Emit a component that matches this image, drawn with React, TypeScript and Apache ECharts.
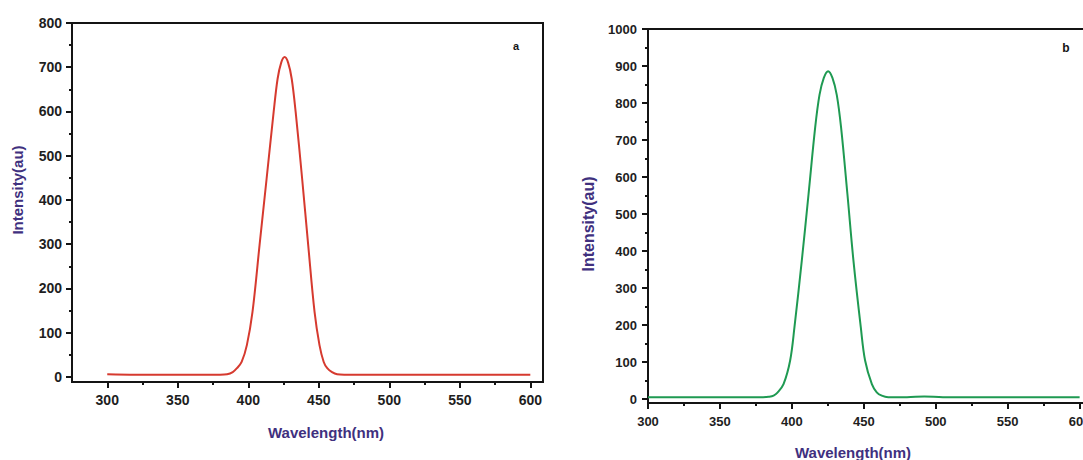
import React, { useEffect, useRef } from "react";
import * as echarts from "echarts";

// Panel a (red)
const wavelengthA = [300, 320, 350, 380, 385, 389, 392, 395.3, 399, 403, 408, 413, 418, 420.8, 423.3, 425.8, 428.3, 430.8, 433.6, 438.2, 442.5, 447, 450.5, 453.5, 456, 459.4, 463, 468, 480, 525, 550, 600];
const intensityA = [6, 5, 5, 5, 6, 11, 20, 34, 72, 147, 298, 448, 599, 674, 710, 723, 710, 674, 599, 448, 298, 147, 72, 34, 20, 11, 6, 5, 5, 5, 5, 5];

// Panel b (green)
const wavelengthB = [300, 340, 380, 384, 387.3, 390, 394.2, 398.8, 401.8, 406.9, 411.6, 416.2, 419.2, 422.2, 425.2, 428.2, 431.2, 434.2, 438.6, 442.8, 447.9, 450.9, 455.6, 459, 462.5, 467, 480, 492, 505, 530, 560, 600];
const intensityB = [5, 5, 5, 6, 9, 17, 40, 104, 194, 374, 554, 734, 822, 868, 886, 868, 822, 734, 554, 374, 194, 104, 40, 18, 9, 5, 5, 7, 5, 5, 5, 5];

// Tick labels
const xTickLabels = [300, 350, 400, 450, 500, 550, 600];
const xMinorTicks = [325, 375, 425, 475, 525, 575];
const yTickLabelsA = [0, 100, 200, 300, 400, 500, 600, 700, 800];
const yMinorTicksA = [50, 150, 250, 350, 450, 550, 650, 750];
const yTickLabelsB = [0, 100, 200, 300, 400, 500, 600, 700, 800, 900, 1000];
const yMinorTicksB = [50, 150, 250, 350, 450, 550, 650, 750, 850, 950];

const FONT = '"Liberation Sans", Arial, sans-serif';
const INK = "#141414";
const TITLE = "#40307e";

function majorAxis(
  gridIndex: number,
  min: number,
  max: number,
  position: string,
  labels: number[],
  margin: number,
  fontSize: number
) {
  return {
    type: "value",
    gridIndex,
    min,
    max,
    position,
    axisLine: { show: true, onZero: false, lineStyle: { color: INK, width: 2 } },
    axisTick: { show: true, customValues: labels, length: 6, lineStyle: { color: INK, width: 2 } },
    axisLabel: {
      show: true,
      customValues: labels,
      margin,
      fontSize,
      fontWeight: "bold",
      fontFamily: FONT,
      color: "#1e1e1e",
      formatter: (v: number) => String(Math.round(v)),
    },
    splitLine: { show: false },
  };
}

function minorAxis(gridIndex: number, min: number, max: number, position: string, ticks: number[]) {
  return {
    type: "value",
    gridIndex,
    min,
    max,
    position,
    axisLine: { show: false, onZero: false },
    axisTick: { show: true, customValues: ticks, length: 3, lineStyle: { color: INK, width: 2 } },
    axisLabel: { show: false },
    splitLine: { show: false },
  };
}

export default function App() {
  const ref = useRef<HTMLDivElement>(null);

  useEffect(() => {
    if (!ref.current) return;
    const chart = echarts.init(ref.current, undefined, { renderer: "svg" });
    const option = {
      animation: false,
      backgroundColor: "#ffffff",
      grid: [
        { left: 72, top: 23, width: 471, height: 359, show: true, borderColor: INK, borderWidth: 2, backgroundColor: "transparent", outerBoundsMode: "none", containLabel: false },
        { left: 648, top: 29, width: 446, height: 374, show: true, borderColor: INK, borderWidth: 2, backgroundColor: "transparent", outerBoundsMode: "none", containLabel: false },
      ],
      xAxis: [
        majorAxis(0, 275, 609, "bottom", xTickLabels, 11, 14),
        minorAxis(0, 275, 609, "bottom", xMinorTicks),
        majorAxis(1, 300, 610, "bottom", xTickLabels, 12, 13),
        minorAxis(1, 300, 610, "bottom", xMinorTicks),
      ],
      yAxis: [
        majorAxis(0, -11.3, 800, "left", yTickLabelsA, 10, 14),
        minorAxis(0, -11.3, 800, "left", yMinorTicksA),
        majorAxis(1, -10.8, 1000, "left", yTickLabelsB, 11, 13),
        minorAxis(1, -10.8, 1000, "left", yMinorTicksB),
      ],
      series: [
        {
          type: "line",
          xAxisIndex: 0,
          yAxisIndex: 0,
          data: wavelengthA.map((x, i) => [x, intensityA[i]]),
          showSymbol: false,
          smooth: 0.35,
          lineStyle: { color: "#d63a2f", width: 2 },
        },
        {
          type: "line",
          xAxisIndex: 2,
          yAxisIndex: 2,
          data: wavelengthB.map((x, i) => [x, intensityB[i]]),
          showSymbol: false,
          smooth: 0.35,
          lineStyle: { color: "#1f9a52", width: 2 },
        },
      ],
      graphic: [
        {
          type: "text",
          x: 17,
          y: 190,
          rotation: Math.PI / 2,
          style: { text: "Intensity(au)", align: "center", verticalAlign: "middle", fontSize: 15, fontWeight: "bold", fontFamily: FONT, fill: TITLE },
        },
        {
          type: "text",
          x: 588,
          y: 224,
          rotation: Math.PI / 2,
          style: { text: "Intensity(au)", align: "center", verticalAlign: "middle", fontSize: 16, fontWeight: "bold", fontFamily: FONT, fill: TITLE },
        },
        {
          type: "text",
          x: 326,
          y: 432,
          style: { text: "Wavelength(nm)", align: "center", verticalAlign: "middle", fontSize: 15, fontWeight: "bold", fontFamily: FONT, fill: TITLE },
        },
        {
          type: "text",
          x: 853,
          y: 452,
          style: { text: "Wavelength(nm)", align: "center", verticalAlign: "middle", fontSize: 15, fontWeight: "bold", fontFamily: FONT, fill: TITLE },
        },
        {
          type: "text",
          x: 516,
          y: 46,
          style: { text: "a", align: "center", verticalAlign: "middle", fontSize: 11, fontWeight: "bold", fontFamily: FONT, fill: INK },
        },
        {
          type: "text",
          x: 1066,
          y: 48,
          style: { text: "b", align: "center", verticalAlign: "middle", fontSize: 12, fontWeight: "bold", fontFamily: FONT, fill: INK },
        },
      ],
    };
    chart.setOption(option as any);
    return () => chart.dispose();
  }, []);

  return (
    <div
      ref={ref}
      style={{ position: "fixed", left: 0, top: 0, width: 1083, height: 460, background: "#ffffff" }}
    />
  );
}
